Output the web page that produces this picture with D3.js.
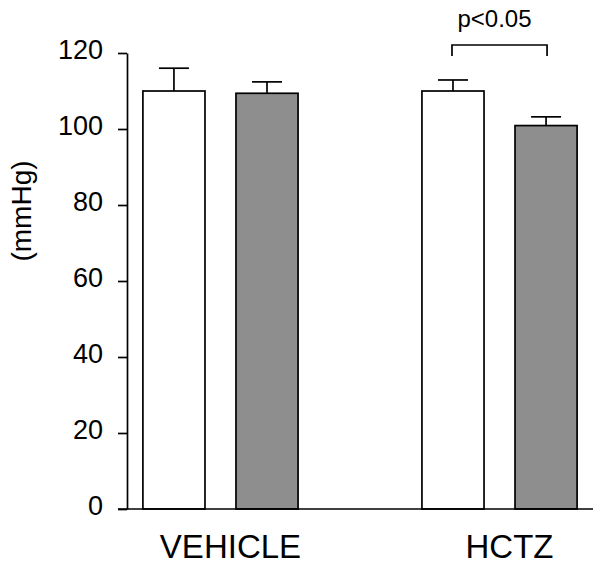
<!DOCTYPE html>
<html>
<head>
<meta charset="utf-8">
<script src="https://cdn.jsdelivr.net/npm/d3@7"></script>
<style>
  body { margin: 0; background: #fff; }
  svg { display: block; }
</style>
</head>
<body>
<script>
const fontFamily = "Arial, 'Liberation Sans', Helvetica, sans-serif";

// data
const groups = ["VEHICLE", "HCTZ"];
const series = ["control", "treated"];
const seriesFill = ["#ffffff", "#8e8e8e"];
const controlMean = [110.0, 110.0];
const controlErr = [6.0, 2.9];
const treatedMean = [109.4, 100.9];
const treatedErr = [3.0, 2.3];
const yTicks = [0, 20, 40, 60, 80, 100, 120];
const yLabel = "(mmHg)";
const sigLabel = "p<0.05";

const width = 601;
const height = 569;

let svg = d3.select("body").append("svg")
    .attr("width", width)
    .attr("height", height)
    .style("font-family", fontFamily);

let y = d3.scaleLinear().domain([0, 120]).range([509, 53]);

let x0 = d3.scaleBand()
    .domain(groups)
    .range([127, 593])
    .paddingInner(0.444)
    .paddingOuter(0.057);

let x1 = d3.scaleBand()
    .domain(series)
    .range([0, x0.bandwidth()])
    .paddingInner(0.333)
    .paddingOuter(0);

let rows = [];
groups.forEach((g, i) => {
    rows.push({ group: g, key: "control", mean: controlMean[i], err: controlErr[i] });
    rows.push({ group: g, key: "treated", mean: treatedMean[i], err: treatedErr[i] });
});

function barX(d) { return x0(d.group) + x1(d.key); }
function barMid(d) { return barX(d) + x1.bandwidth() / 2; }

// error bars (upper only)
let capHalf = 15;
let err = svg.append("g").classed("errors", true)
    .attr("stroke", "#000")
    .attr("stroke-width", 1.7);

err.selectAll("line.stem")
    .data(rows)
    .enter()
    .append("line")
    .classed("stem", true)
    .attr("x1", barMid)
    .attr("x2", barMid)
    .attr("y1", d => y(d.mean))
    .attr("y2", d => y(d.mean + d.err));

err.selectAll("line.cap")
    .data(rows)
    .enter()
    .append("line")
    .classed("cap", true)
    .attr("x1", d => barMid(d) - capHalf)
    .attr("x2", d => barMid(d) + capHalf)
    .attr("y1", d => y(d.mean + d.err))
    .attr("y2", d => y(d.mean + d.err));

// bars
svg.append("g").classed("bars", true)
    .selectAll("rect")
    .data(rows)
    .enter()
    .append("rect")
    .attr("x", barX)
    .attr("y", d => y(d.mean))
    .attr("width", x1.bandwidth())
    .attr("height", d => y(0) - y(d.mean))
    .attr("fill", d => seriesFill[series.indexOf(d.key)])
    .attr("stroke", "#000")
    .attr("stroke-width", 1.7);

// y axis
let yAxis = svg.append("g")
    .attr("transform", "translate(127,0)")
    .call(d3.axisLeft(y).tickValues(yTicks).tickSize(9).tickSizeOuter(0).tickPadding(15));

yAxis.select(".domain").attr("stroke", "#000").attr("stroke-width", 1.7);
yAxis.selectAll(".tick line").attr("stroke", "#000").attr("stroke-width", 1.7);
yAxis.selectAll(".tick text")
    .attr("fill", "#000")
    .attr("font-size", 27)
    .attr("font-family", fontFamily)
    .attr("dy", "0.2em");

// baseline
svg.append("line")
    .attr("x1", 118)
    .attr("x2", x0.range()[1])
    .attr("y1", y(0))
    .attr("y2", y(0))
    .attr("stroke", "#000")
    .attr("stroke-width", 1.7);

// group labels
svg.append("g").classed("xlabels", true)
    .selectAll("text")
    .data(groups)
    .enter()
    .append("text")
    .attr("x", d => x0(d) + x0.bandwidth() / 2 + 10)
    .attr("y", 558)
    .attr("text-anchor", "middle")
    .attr("font-size", 33)
    .text(d => d);

// y label
svg.append("text")
    .attr("transform", "translate(31," + ((y(0) + y(120)) / 2 - 70) + ") rotate(-90)")
    .attr("text-anchor", "middle")
    .attr("font-size", 28)
    .text(yLabel);

// significance bracket over HCTZ pair
let left = rows[2], right = rows[3];
let bracketY = 45;
svg.append("path")
    .attr("d", d3.line()([
        [barMid(left) - 1, bracketY + 11],
        [barMid(left) - 1, bracketY],
        [barMid(right) + 1, bracketY],
        [barMid(right) + 1, bracketY + 11]
    ]))
    .attr("fill", "none")
    .attr("stroke", "#000")
    .attr("stroke-width", 1.7);

svg.append("text")
    .attr("x", (barMid(left) + barMid(right)) / 2 - 5)
    .attr("y", 27)
    .attr("text-anchor", "middle")
    .attr("font-size", 24)
    .text(sigLabel);
</script>
</body>
</html>
